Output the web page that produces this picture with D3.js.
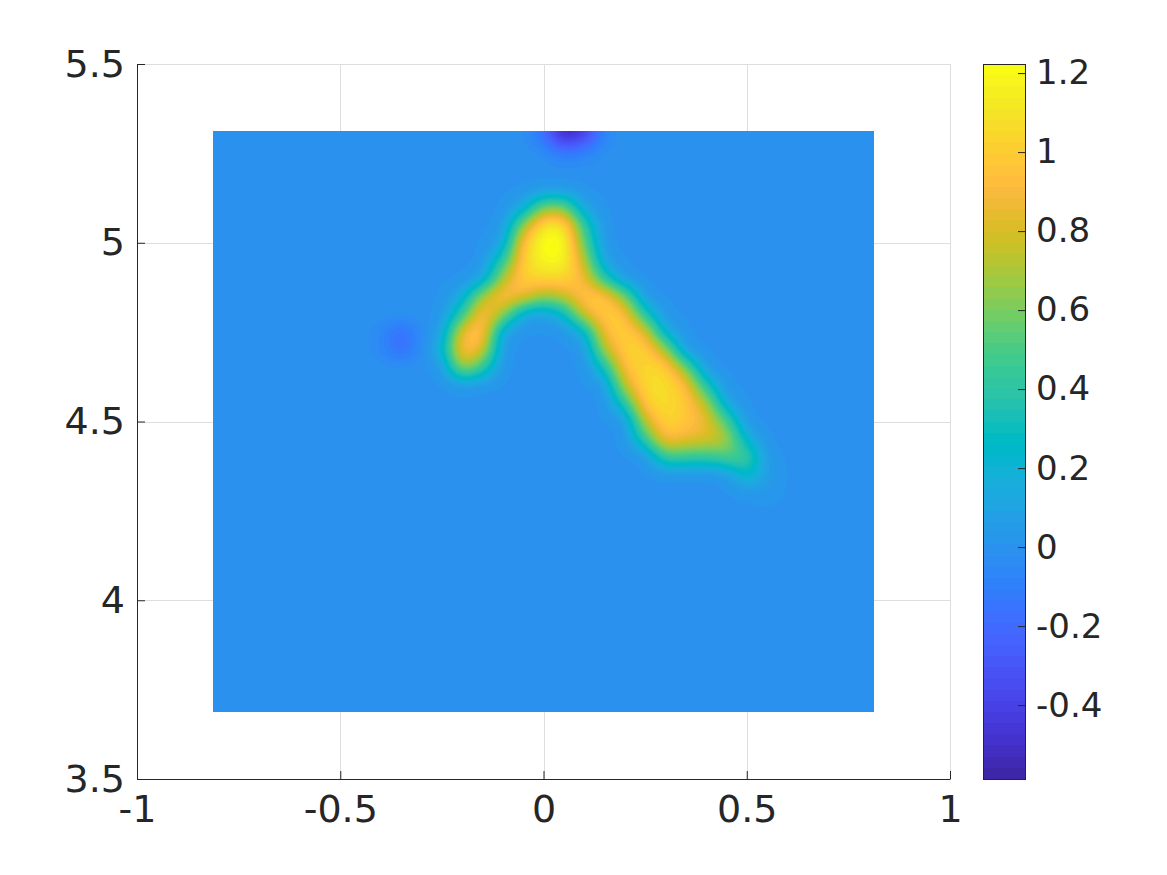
<!DOCTYPE html>
<html><head><meta charset="utf-8">
<script src="https://cdn.jsdelivr.net/npm/d3@7"></script>
<style>html,body{margin:0;padding:0;background:#fff}svg{display:block}text{font-family:"DejaVu Sans";fill:#262626}</style>
</head><body><svg id="c" width="1167" height="875"></svg>
<script>
const xTicks=[-1,-0.5,0,0.5,1];
const yTicks=[3.5,4,4.5,5,5.5];
const barTicks=[-0.4,-0.2,0,0.2,0.4,0.6,0.8,1,1.2];
const xDomain=[-1,1], yDomain=[3.5,5.5], colorDomain=[-0.587,1.223];
const imageX=[-0.813,0.813], imageY=[3.6875,5.3125];
const gridX=[-0.45,-0.40,-0.35,-0.30,-0.25,-0.20,-0.15,-0.10,-0.05,0,0.05,0.10,0.15,0.20,0.25,0.30,0.35,0.40,0.45,0.50,0.55,0.60];
const gridY=[5.35,5.30,5.25,5.20,5.15,5.10,5.05,5.00,4.95,4.90,4.85,4.80,4.75,4.70,4.65,4.60,4.55,4.50,4.45,4.40,4.35,4.30,4.25];
const gridValues=[
[0,0,0,0,0,0,0,0,0,-.16,-.62,-.5,-.06,0,0,0,0,0,0,0,0,0],
[0,0,0,0,0,0,0,0,-.01,-.15,-.55,-.4,-.05,0,0,0,0,0,0,0,0,0],
[0,0,0,0,0,0,0,0,0,-.02,-.12,-.07,-.01,0,0,0,0,0,0,0,0,0],
[0,0,0,0,0,0,0,0,0,0,0,0,0,0,0,0,0,0,0,0,0,0],
[0,0,0,0,0,0,0,0,0,.02,.02,.0,0,0,0,0,0,0,0,0,0,0],
[0,0,0,0,0,0,0,0,.12,.6,.6,.08,0,0,0,0,0,0,0,0,0,0],
[0,0,0,0,0,0,0,.02,.65,1.14,1.14,.4,0,0,0,0,0,0,0,0,0,0],
[0,0,0,0,0,0,0,.08,.98,1.25,1.25,.55,.01,0,0,0,0,0,0,0,0,0],
[0,0,0,0,0,0,0,.4,1.02,1.2,1.2,.75,.06,0,0,0,0,0,0,0,0,0],
[0,0,0,0,0,0,.08,.72,1.03,1.05,1.05,.9,.38,.01,0,0,0,0,0,0,0,0],
[0,0,0,0,0,.14,.72,.98,.88,.65,.75,1,1,.62,.01,0,0,0,0,0,0,0],
[0,0,0,0,.01,.42,1,.68,.1,.05,.22,.82,1.02,.97,.35,.01,0,0,0,0,0,0],
[0,-.05,-.2,-.03,.08,.9,1.04,.06,0,0,0,.17,.93,1.02,.88,.14,0,0,0,0,0,0],
[0,-.05,-.2,-.03,.19,1,.84,.01,0,0,0,0,.72,1.03,1.03,.72,.02,0,0,0,0,0],
[0,0,0,0,.01,.72,.42,0,0,0,0,0,.3,.96,1.05,1.05,.62,.01,0,0,0,0],
[0,0,0,0,0,.02,0,0,0,0,0,0,.01,.76,1.07,1.08,.96,.36,0,0,0,0],
[0,0,0,0,0,0,0,0,0,0,0,0,0,.35,1.02,1.08,.99,.76,.11,0,0,0],
[0,0,0,0,0,0,0,0,0,0,0,0,0,.01,.76,1.06,.97,.88,.52,0,0,0],
[0,0,0,0,0,0,0,0,0,0,0,0,0,0,.42,.94,.86,.82,.75,.2,0,0],
[0,0,0,0,0,0,0,0,0,0,0,0,0,0,0,.45,.42,.4,.5,.5,.03,0],
[0,0,0,0,0,0,0,0,0,0,0,0,0,0,0,0,0,0,.02,.3,.06,0],
[0,0,0,0,0,0,0,0,0,0,0,0,0,0,0,0,0,0,0,.01,.03,0],
[0,0,0,0,0,0,0,0,0,0,0,0,0,0,0,0,0,0,0,0,0,0]
];
const parula=[[.2422,.1504,.6603],[.2504,.165,.7076],[.2578,.1818,.7511],[.2647,.1978,.7952],[.2706,.2147,.8364],[.2751,.2342,.871],[.2783,.2559,.8991],[.2803,.2782,.9221],[.2813,.3006,.9414],[.281,.3228,.9579],[.2795,.3447,.9717],[.276,.3667,.9829],[.2699,.3892,.9906],[.2602,.4123,.9952],[.244,.4358,.9988],[.2206,.4603,.9973],[.1963,.4847,.9892],[.1834,.5074,.9798],[.1786,.5289,.9682],[.1764,.5499,.952],[.1687,.5703,.9359],[.154,.5902,.9218],[.146,.6091,.9079],[.138,.6276,.8973],[.1248,.6459,.8883],[.1113,.6635,.8763],[.0952,.6798,.8598],[.0689,.6948,.8394],[.0297,.7082,.8163],[.0036,.7203,.7917],[.0067,.7312,.766],[.0433,.7411,.7394],[.0964,.75,.712],[.1408,.7584,.6842],[.1717,.767,.6554],[.1938,.7758,.6251],[.2161,.7843,.5923],[.247,.7918,.5567],[.2906,.7973,.5188],[.3406,.8008,.4789],[.3909,.8029,.4354],[.4456,.8024,.3909],[.5044,.7993,.348],[.5616,.7942,.3045],[.6174,.7876,.2612],[.672,.7793,.2227],[.7242,.7698,.191],[.7738,.7598,.1646],[.8203,.7498,.1535],[.8634,.7406,.1596],[.9035,.733,.1774],[.9393,.7288,.21],[.9728,.7298,.2394],[.9956,.7434,.2371],[.997,.7659,.2199],[.9952,.7893,.2028],[.9892,.8136,.1885],[.9786,.8386,.1766],[.9676,.8639,.1643],[.961,.889,.1537],[.9597,.9135,.1423],[.9628,.9373,.1265],[.9691,.9606,.1064],[.9769,.9839,.0805]]
 .map(c=>d3.rgb(c[0]*255,c[1]*255,c[2]*255).formatHex());

const svg=d3.select("#c");
const L=137,R=950,T=64,B=779;
const x=d3.scaleLinear().domain(xDomain).range([L,R]);
const y=d3.scaleLinear().domain(yDomain).range([B,T]);
const color=d3.scaleQuantize().domain(colorDomain).range(parula);
const ink="#262626", gridInk="#dedede";

// grid
const gx=svg.append("g");
gx.selectAll("line.v").data(xTicks).join("line").attr("x1",d=>Math.round(x(d))+.5).attr("x2",d=>Math.round(x(d))+.5).attr("y1",T).attr("y2",B).attr("stroke",gridInk);
gx.selectAll("line.h").data(yTicks).join("line").attr("y1",d=>Math.round(y(d))+.5).attr("y2",d=>Math.round(y(d))+.5).attr("x1",L).attr("x2",R).attr("stroke",gridInk);

// field: table values upsampled for smooth shading, zero elsewhere in the image
const up=4, stepX=0.05/up, stepY=0.05/up;
const x0=-0.85, y0=5.35;
const W=Math.round(1.7/stepX)+1, H=Math.round(1.7/stepY)+1;
const tableAt=(i,j)=>(j>=0&&j<gridY.length&&i>=0&&i<gridX.length)?gridValues[j][i]:0;
const field=new Float64Array(W*H);
for(let r=0;r<H;r++){
  const fy=r*stepY/0.05, j=Math.floor(fy+1e-9), ty=fy-j;
  for(let c=0;c<W;c++){
    const fx=((x0+c*stepX)-gridX[0])/0.05, i=Math.floor(fx+1e-9), tx=fx-i;
    const a=tableAt(i,j),b=tableAt(i+1,j),d=tableAt(i,j+1),e=tableAt(i+1,j+1);
    field[r*W+c]=(a*(1-tx)+b*tx)*(1-ty)+(d*(1-tx)+e*tx)*ty;
  }
}
d3.blur2({data:field,width:W,height:H},1);
const levels=parula.map((_,k)=>colorDomain[0]+k*(colorDomain[1]-colorDomain[0])/parula.length);
const contours=d3.contours().size([W,H]).smooth(true).thresholds(levels)(field);
const proj=d3.geoTransform({point(px,py){this.stream.point(x(x0+(px-.5)*stepX),y(y0-(py-.5)*stepY));}});
const path=d3.geoPath(proj);
svg.append("clipPath").attr("id","img").append("rect")
  .attr("x",x(imageX[0])).attr("y",y(imageY[1])).attr("width",x(imageX[1])-x(imageX[0])).attr("height",y(imageY[0])-y(imageY[1]));
const gi=svg.append("g").attr("clip-path","url(#img)");
gi.selectAll("path").data(contours).join("path").attr("d",path).attr("fill",d=>color(d.value+1e-6));

// axes
const axL=d3.axisLeft(y).tickValues(yTicks).tickSizeInner(-8).tickSizeOuter(0).tickPadding(12).tickFormat(d=>String(d));
const axB=d3.axisBottom(x).tickValues(xTicks).tickSizeInner(-8).tickSizeOuter(0).tickPadding(16).tickFormat(d=>String(d));
const gl=svg.append("g").attr("transform",`translate(${L},0)`).call(axL);
const gb=svg.append("g").attr("transform",`translate(0,${B})`).call(axB);
for(const g of [gl,gb]){g.selectAll("path,line").attr("stroke",ink);g.selectAll("text").attr("fill",ink).style("font-size","38px").style("font-family","DejaVu Sans");}
gb.selectAll("text").attr("dy","0.71em");

// colorbar
const cbL=983,cbR=1025;
const cy=d3.scaleLinear().domain(colorDomain).range([B,T]);
const gc=svg.append("g");
const lw=(colorDomain[1]-colorDomain[0])/parula.length;
gc.selectAll("rect").data(levels).join("rect").attr("x",cbL).attr("width",cbR-cbL)
  .attr("y",d=>Math.round(cy(d+lw))).attr("height",d=>Math.round(cy(d))-Math.round(cy(d+lw)))
  .attr("fill",d=>color(d+1e-6));
gc.append("rect").attr("x",cbL+.5).attr("y",T+.5).attr("width",cbR-cbL).attr("height",B-T).attr("fill","none").attr("stroke",ink);
const axC=d3.axisRight(cy).tickValues(barTicks).tickSizeInner(-7).tickSizeOuter(0).tickPadding(11).tickFormat(d=>String(d));
const gcAx=svg.append("g").attr("transform",`translate(${cbR},0)`).call(axC);
gcAx.select("path").remove();
gcAx.selectAll("line").attr("stroke",ink);
gcAx.selectAll("text").attr("fill",ink).style("font-size","34px").style("font-family","DejaVu Sans");
</script></body></html>
